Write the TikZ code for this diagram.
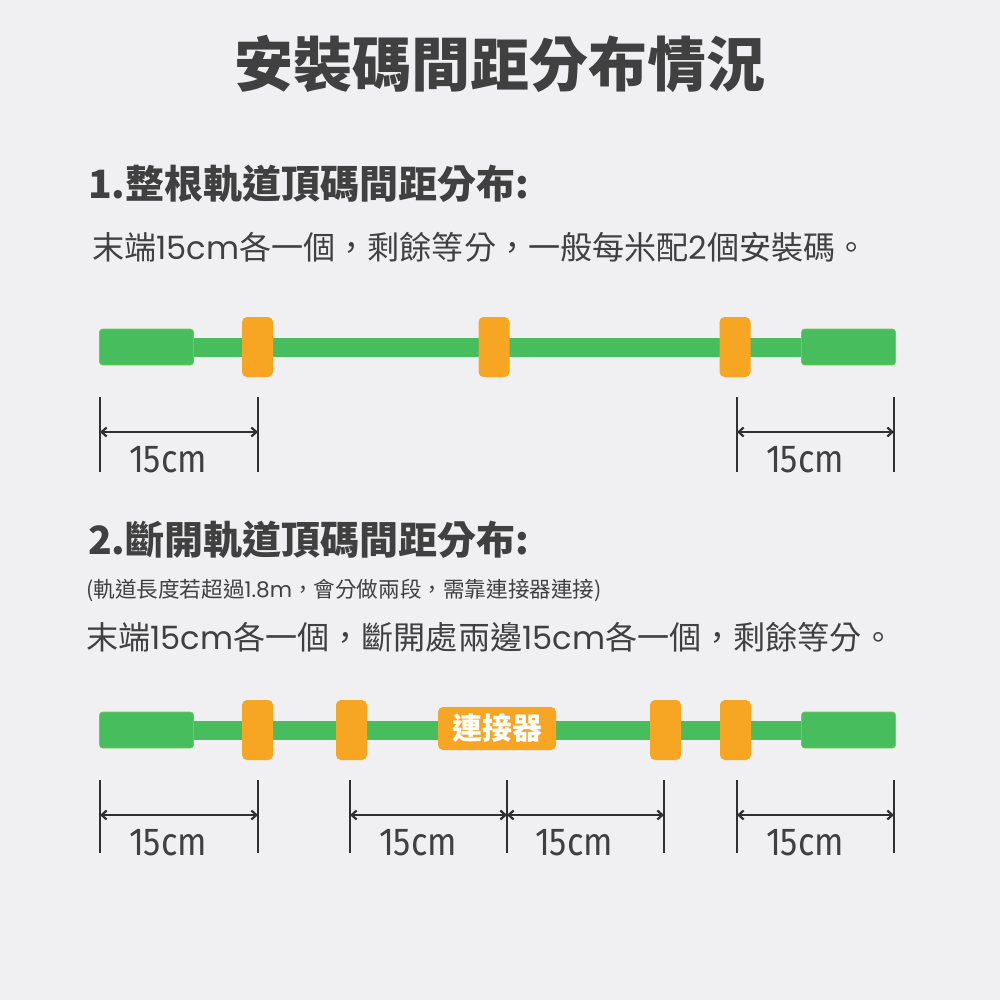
\documentclass[tikz,border=0pt]{standalone}
\usepackage{fontspec}
\newfontfamily\cjk{Noto Sans CJK TC}
\newfontfamily\lat{Poppins}
\newfontfamily\lab{Fira Sans}
\usetikzlibrary{arrows.meta}
\definecolor{bgc}{HTML}{F0F0F2}
\definecolor{railg}{HTML}{47BD5E}
\definecolor{clipo}{HTML}{F6A623}
\definecolor{txt}{HTML}{404040}
\definecolor{dimc}{HTML}{303030}
\pgfdeclarelayer{bg}
\pgfdeclarelayer{raillayer}
\pgfsetlayers{bg,raillayer,main}
\tikzset{
  endblk/.style={fill=railg, draw=railg!75!yellow, line width=0.6pt, rounded corners=3pt, minimum width=94pt, minimum height=36pt, inner sep=0pt},
  clipbox/.style={fill=clipo, rounded corners=5pt, minimum width=31pt, minimum height=60pt, inner sep=0pt},
  railline/.style={railg, line width=19pt},
  tickline/.style={dimc, line width=2.4pt},
  dimarrow/.style={dimc, line width=2.2pt, {Straight Barb[length=5pt,width=9pt]}-{Straight Barb[length=5pt,width=9pt]}},
  dimlabel/.style={txt, anchor=base, inner sep=0pt, font=\lab\fontsize{39}{46}\selectfont},
  txtnode/.style={txt, inner sep=0pt, anchor=base west},
}
\newcommand{\narrow}[1]{\scalebox{0.88}[1]{#1}}
\newcommand{\latn}[1]{{\lat #1}}
\begin{document}
\begin{tikzpicture}[x=1pt,y=-1pt]
\begin{pgfonlayer}{bg}
\fill[bgc] (0,0) rectangle (1000,1000);
\end{pgfonlayer}
\useasboundingbox (0,0) rectangle (1000,1000);

% texts
\node[txt, inner sep=0pt, anchor=base, font=\cjk\bfseries\fontsize{59}{70}\selectfont] (title) at (500,87) {安裝碼間距分布情況};
\node[txtnode, font=\cjk\bfseries\fontsize{39}{46}\selectfont] (h1) at (88,199) {1.整根軌道頂碼間距分布:};
\node[txtnode, font=\cjk\fontsize{32.1}{38}\selectfont] (l1) at (92,259) {末端\latn{15cm}各一個，剩餘等分，一般每米配\latn{2}個安裝碼。};
\node[txtnode, font=\cjk\bfseries\fontsize{39}{46}\selectfont] (h2) at (88,554) {2.斷開軌道頂碼間距分布:};
\node[txtnode, font=\cjk\fontsize{21.6}{25}\selectfont] (s2) at (86,597) {(軌道長度若超過\latn{1.8m}，會分做兩段，需靠連接器連接)};
\node[txtnode, font=\cjk\fontsize{32.1}{38}\selectfont] (l2) at (86,649) {末端\latn{15cm}各一個，斷開處兩邊\latn{15cm}各一個，剩餘等分。};

% rail 1
\node[endblk] (L1) at (146.5,347) {};
\node[endblk] (R1) at (848.5,347) {};
\node[clipbox] (c11) at (257.5,347) {};
\node[clipbox] (c12) at (494,347) {};
\node[clipbox] (c13) at (735,347) {};
\begin{pgfonlayer}{raillayer}
\draw[railline] (L1.east) -- (R1.west);
\end{pgfonlayer}

% dimensions 1
\coordinate (d1a) at (100,432);
\coordinate (d1b) at (258,432);
\coordinate (d1c) at (737,432);
\coordinate (d1d) at (894,432);
\foreach \p in {d1a,d1b,d1c,d1d} \draw[tickline] (\p) ++(0,-35) -- ++(0,75);
\draw[dimarrow] (d1a) -- (d1b);
\draw[dimarrow] (d1c) -- (d1d);
\node[dimlabel] (t11) at (168,472) {\narrow{15cm}};
\node[dimlabel] (t12) at (805,472) {\narrow{15cm}};

% rail 2
\node[endblk] (L2) at (146.5,730) {};
\node[endblk] (R2) at (848.5,730) {};
\node[clipbox] (c21) at (257.5,730) {};
\node[clipbox] (c22) at (351.5,730) {};
\node[clipbox] (c23) at (665.5,730) {};
\node[clipbox] (c24) at (735.5,730) {};
\node[fill=clipo, rounded corners=5pt, minimum width=118pt, minimum height=43pt, inner sep=0pt, text=white, font=\cjk\bfseries\fontsize{30}{36}\selectfont] (conn) at (497,728.5) {連接器};
\begin{pgfonlayer}{raillayer}
\draw[railline] (L2.east) -- (R2.west);
\end{pgfonlayer}

% dimensions 2
\coordinate (d2a) at (100,815);
\coordinate (d2b) at (258,815);
\coordinate (d2c) at (350,815);
\coordinate (d2d) at (507,815);
\coordinate (d2e) at (664,815);
\coordinate (d2f) at (737,815);
\coordinate (d2g) at (894,815);
\foreach \p in {d2a,d2b,d2c,d2d,d2e,d2f,d2g} \draw[tickline] (\p) ++(0,-35) -- ++(0,73);
\draw[dimarrow] (d2a) -- (d2b);
\draw[dimarrow] (d2c) -- (d2d);
\draw[dimarrow] (d2d) -- (d2e);
\draw[dimarrow] (d2f) -- (d2g);
\node[dimlabel] (t21) at (168,855) {\narrow{15cm}};
\node[dimlabel] (t22) at (418,855) {\narrow{15cm}};
\node[dimlabel] (t23) at (574,855) {\narrow{15cm}};
\node[dimlabel] (t24) at (805,855) {\narrow{15cm}};
\end{tikzpicture}
\end{document}
